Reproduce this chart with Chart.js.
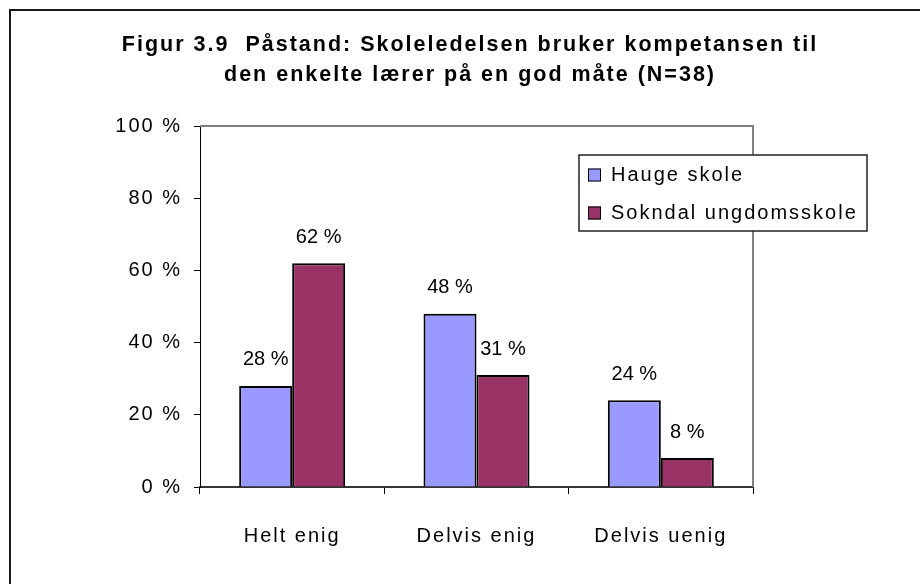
<!DOCTYPE html>
<html>
<head>
<meta charset="utf-8">
<script src="https://cdn.jsdelivr.net/npm/chart.js@4.4.1/dist/chart.umd.min.js"></script>
<style>
html,body{margin:0;padding:0;background:#fff;}
#wrap{width:920px;height:584px;}
</style>
</head>
<body>
<div id="wrap"><canvas id="c" width="920" height="584"></canvas></div>
<script>
// ---- data ----
const categories = ['Helt enig', 'Delvis enig', 'Delvis uenig'];
const seriesNames = ['Hauge skole', 'Sokndal ungdomsskole'];
const haugeValues = [28, 48, 24];
const sokndalValues = [62, 31, 8];
const yTickValues = [0, 20, 40, 60, 80, 100];
const yTickLabels = ['0 %', '20 %', '40 %', '60 %', '80 %', '100 %'];
const titleLines = ['Figur 3.9  Påstand: Skoleledelsen bruker kompetansen til', 'den enkelte lærer på en god måte (N=38)'];
const seriesColors = ['#9999FF', '#993366'];

const FONT = '"Liberation Sans", Arial, sans-serif';

const frameAndBorder = {
  id: 'frameAndBorder',
  beforeDraw(chart) {
    const ctx = chart.ctx;
    ctx.save();
    ctx.fillStyle = '#fff';
    ctx.fillRect(0, 0, chart.width, chart.height);
    ctx.strokeStyle = '#1a1a1a';
    ctx.lineWidth = 2;
    ctx.beginPath();
    ctx.moveTo(10, chart.height);
    ctx.lineTo(10, 10);
    ctx.lineTo(chart.width, 10);
    ctx.stroke();
    ctx.restore();
    ctx.letterSpacing = '2px';
  },
  beforeDatasetsDraw(chart) {
    const ctx = chart.ctx;
    const a = chart.chartArea;
    ctx.save();
    ctx.strokeStyle = '#808080';
    ctx.lineWidth = 2;
    ctx.beginPath();
    ctx.moveTo(a.left, a.top);
    ctx.lineTo(a.right, a.top);
    ctx.lineTo(a.right, a.bottom);
    ctx.stroke();
    ctx.restore();
  },
  afterDatasetsDraw(chart) {
    const ctx = chart.ctx;
    ctx.save();
    ctx.letterSpacing = '0px';
    ctx.font = '20px ' + FONT;
    ctx.fillStyle = '#000';
    ctx.textAlign = 'center';
    ctx.textBaseline = 'middle';
    chart.data.datasets.forEach((ds, di) => {
      const meta = chart.getDatasetMeta(di);
      meta.data.forEach((bar, i) => {
        ctx.fillText(ds.data[i] + ' %', bar.x, bar.y - 26);
      });
    });
    ctx.restore();
  },
  afterDraw(chart) {
    const ctx = chart.ctx;
    const a = chart.chartArea;
    const bx = a.right - 174, by = a.top + 29, bw = 288, bh = 76;
    ctx.save();
    ctx.fillStyle = '#fff';
    ctx.fillRect(bx, by, bw, bh);
    ctx.strokeStyle = '#222';
    ctx.lineWidth = 1.5;
    ctx.strokeRect(bx, by, bw, bh);
    ctx.letterSpacing = '2px';
    ctx.font = '20px ' + FONT;
    ctx.textAlign = 'left';
    ctx.textBaseline = 'middle';
    chart.data.datasets.forEach((ds, di) => {
      const cy = by + 20 + di * 38;
      ctx.fillStyle = ds.backgroundColor;
      ctx.fillRect(bx + 9, cy - 6.5, 13, 13);
      ctx.strokeStyle = '#000';
      ctx.lineWidth = 1;
      ctx.strokeRect(bx + 9.5, cy - 6, 12, 12);
      ctx.fillStyle = '#000';
      ctx.fillText(ds.label, bx + 32, cy);
    });
    ctx.restore();
  }
};

new Chart(document.getElementById('c'), {
  type: 'bar',
  data: {
    labels: categories,
    datasets: [
      { label: seriesNames[0], data: haugeValues, backgroundColor: seriesColors[0], borderColor: '#000', borderWidth: 2 },
      { label: seriesNames[1], data: sokndalValues, backgroundColor: seriesColors[1], borderColor: '#000', borderWidth: 2 }
    ]
  },
  options: {
    responsive: false,
    animation: false,
    devicePixelRatio: 1,
    layout: { padding: { left: 20, right: 0, top: 0, bottom: 37 } },
    datasets: { bar: { categoryPercentage: 0.575, barPercentage: 1.0 } },
    plugins: {
      legend: { display: false },
      tooltip: { enabled: false },
      title: {
        display: true,
        text: titleLines,
        color: '#000',
        font: { family: FONT, size: 21.5, weight: 'bold', lineHeight: '30px' },
        padding: { top: 30, bottom: 36 }
      }
    },
    scales: {
      x: {
        afterFit(s) { s.height = 60; },
        grid: { display: true, drawOnChartArea: false, drawTicks: true, tickLength: 7, color: '#000', offset: true },
        border: { display: true, color: '#333', width: 2 },
        ticks: { color: '#000', font: { family: FONT, size: 20 }, padding: 30 }
      },
      y: {
        min: yTickValues[0], max: yTickValues[yTickValues.length - 1],
        afterFit(s) { s.width = 180; },
        grid: { display: true, drawOnChartArea: false, drawTicks: true, tickLength: 6, color: '#000' },
        border: { display: true, color: '#000', width: 1 },
        ticks: {
          color: '#000', font: { family: FONT, size: 20 }, padding: 12,
          stepSize: yTickValues[1] - yTickValues[0],
          callback: (v) => yTickLabels[yTickValues.indexOf(v)]
        }
      },
      yRight: {
        position: 'right',
        display: true,
        afterFit(s) { s.width = 167; },
        grid: { display: false, drawOnChartArea: false },
        border: { display: false },
        ticks: { display: false }
      }
    }
  },
  plugins: [frameAndBorder]
});
</script>
</body>
</html>
